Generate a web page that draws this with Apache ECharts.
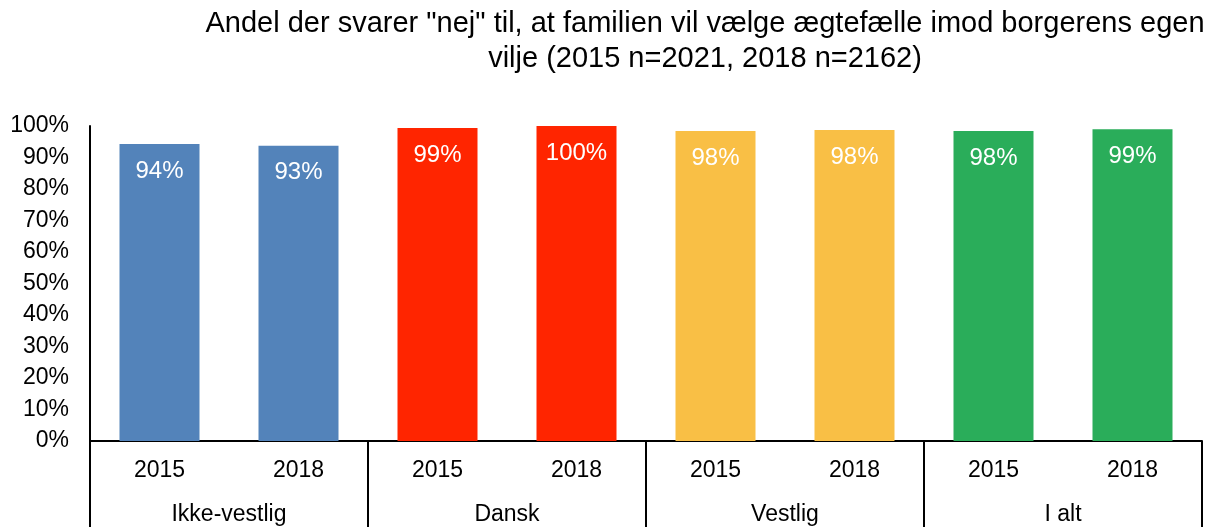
<!DOCTYPE html>
<html lang="da">
<head>
    <meta charset="UTF-8">
    <title>Andel der svarer nej</title>
    <style>
        *{
            margin: 0;
            padding: 0;
        }
        #main{
            width: 1214px;
            height: 527px;
            background: #FFFFFF;
        }
    </style>
</head>
<body>
<div id="main"></div>
<script src="https://cdn.jsdelivr.net/npm/echarts@6/dist/echarts.min.js"></script>
<script>
    // data
    let groups = ['Ikke-vestlig', 'Dansk', 'Vestlig', 'I alt'];
    let years = ['2015', '2018', '2015', '2018', '2015', '2018', '2015', '2018'];
    let values = [94.3, 93.7, 99.4, 100, 98.4, 98.7, 98.4, 99.0];
    let labels = ['94%', '93%', '99%', '100%', '98%', '98%', '98%', '99%'];
    let yTicks = [0, 10, 20, 30, 40, 50, 60, 70, 80, 90, 100];

    let groupColors = ['#5383BA', '#FF2500', '#F9BF45', '#2AAD5A'];
    let font = 'Liberation Sans, Arial, sans-serif';

    let barData = [];
    for(let i = 0;i<values.length;i++){
        barData.push({
            value: values[i],
            itemStyle: {color: groupColors[Math.floor(i / 2)]}
        });
    }

    let myChart = echarts.init(document.getElementById('main'));
    myChart.setOption({
        animation: false,
        title: {
            text: 'Andel der svarer "nej" til, at familien vil vælge ægtefælle imod borgerens egen\nvilje (2015 n=2021, 2018 n=2162)',
            left: 705,
            top: 6,
            padding: 0,
            textAlign: 'center',
            textStyle: {
                fontFamily: font,
                fontSize: 29,
                fontWeight: 'normal',
                color: '#000000',
                lineHeight: 35
            }
        },
        grid: {
            left: 90,
            right: 12,
            top: 126,
            bottom: 86,
            containLabel: false
        },
        xAxis: [
            {
                type: 'category',
                data: years,
                position: 'bottom',
                axisLine: {show: true, lineStyle: {color: '#000000', width: 2}},
                axisTick: {show: false},
                axisLabel: {
                    fontFamily: font,
                    fontSize: 23,
                    color: '#000000',
                    margin: 18
                }
            },
            {
                type: 'category',
                data: groups,
                position: 'bottom',
                axisLine: {show: false},
                axisTick: {show: true, length: 90, lineStyle: {color: '#000000', width: 2}},
                axisLabel: {
                    fontFamily: font,
                    fontSize: 23,
                    color: '#000000',
                    margin: 62
                }
            }
        ],
        yAxis: {
            type: 'value',
            min: yTicks[0],
            max: yTicks[yTicks.length - 1],
            interval: 10,
            axisLine: {show: true, lineStyle: {color: '#000000', width: 2}},
            axisTick: {show: false},
            splitLine: {show: false},
            axisLabel: {
                fontFamily: font,
                fontSize: 23,
                color: '#000000',
                margin: 21,
                formatter: '{value}%'
            }
        },
        series: [{
            type: 'bar',
            xAxisIndex: 0,
            barWidth: 80,
            data: barData,
            label: {
                show: true,
                position: 'insideTop',
                distance: 15,
                fontFamily: font,
                fontSize: 24,
                color: '#FFFFFF',
                formatter: function(p){
                    return labels[p.dataIndex];
                }
            }
        }]
    });
</script>
</body>
</html>
